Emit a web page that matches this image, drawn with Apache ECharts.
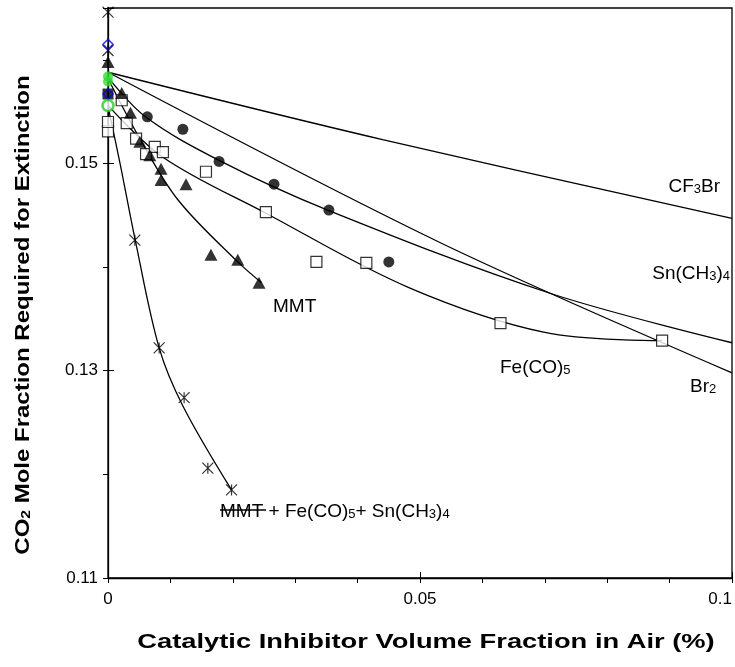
<!DOCTYPE html>
<html><head><meta charset="utf-8">
<script src="https://cdn.jsdelivr.net/npm/echarts@6/dist/echarts.min.js"></script>
<style>html,body{margin:0;padding:0;background:#fff}#c{width:735px;height:667px}</style>
</head><body><div id="c"></div>
<script>
// ---- data ----
const xTickLabels = ['0', '0.05', '0.1'];
const yTickLabels = ['0.11', '0.13', '0.15'];
// measured points
const snPts  = [[0.0063,0.1545],[0.0120,0.1533],[0.0178,0.1502],[0.0266,0.1480],[0.0354,0.1455],[0.0450,0.1405]];
const fePts  = [[0,0.1531],[0,0.1540],[0.0022,0.1561],[0.0030,0.1539],[0.0045,0.1524],[0.0061,0.1509],[0.0075,0.1516],[0.0088,0.1511],[0.0157,0.1492],[0.0253,0.1453],[0.0334,0.1405],[0.0414,0.1404],[0.0629,0.1346],[0.0888,0.1329]];
const mmtPts = [[0,0.1598],[0.0022,0.1568],[0.0036,0.1549],[0.0051,0.1521],[0.0067,0.1508],[0.0085,0.1495],[0.0085,0.1484],[0.0125,0.1480],[0.0165,0.1412],[0.0208,0.1407],[0.0242,0.1385]];
const mixPts = [[0,0.1646],[0,0.1609],[0.0043,0.1426],[0.0082,0.1322],[0.0122,0.1274],[0.0160,0.1206],[0.0198,0.1185]];
const blueDiamondPts = [[0,0.1615],[0,0.1567]];
const blackSquarePts = [[0,0.1567]];
const greenDotPts = [[0,0.1584],[0,0.1579]];
const greenRingPts = [[0,0.1556]];
// fitted curves
const cf3brCurve = [[0,0.1588],[0.044,0.1523],[0.1,0.1447]];
const br2Curve   = [[0,0.1588],[0.0531,0.1424],[0.1,0.1298]];
const snCurve    = [[0,0.1583],[0.006,0.1545],[0.0178,0.1503],[0.0352,0.1455],[0.0707,0.1375],[0.1,0.1327]];
const feCurve    = [[0,0.1556],[0.0088,0.1506],[0.0253,0.1452],[0.0483,0.1380],[0.0700,0.1337],[0.0888,0.1329]];
const mmtCurve   = [[0,0.1582],[0.0051,0.1524],[0.0112,0.1465],[0.0208,0.1405],[0.0246,0.1385]];
const mixCurve   = [[0,0.1555],[0.0020,0.1498],[0.0043,0.1428],[0.0082,0.1322],[0.0120,0.1266],[0.0198,0.1185]];

const FONT = '"Liberation Sans", Arial, sans-serif';
const chart = echarts.init(document.getElementById('c'));
const grid = {left:108, right:2, top:8, bottom:89};
const lbl = (v, list) => { const s = String(+v.toFixed(4)); return list.includes(s) ? s : ''; };

const curve = (data) => ({type:'line', data, smooth:0.35, symbol:'none', silent:true,
  lineStyle:{color:'#000', width:1.3}, z:2});
const asterisk = 'path://M0,0L10,10M10,0L0,10M5,0L5,10';

const rich = {
  n:{fontFamily:FONT, fontSize:19, color:'#000', lineHeight:22, verticalAlign:'bottom'},
  s:{fontFamily:FONT, fontSize:13, color:'#000', lineHeight:14, verticalAlign:'bottom'}
};
const txt = (x, y, text, align) => ({type:'text', x, y, z:50,
  style:{text, rich, align: align||'left', verticalAlign:'middle', fill:'#000'}});

chart.setOption({
  animation:false,
  grid:{...grid, show:true, borderColor:'#000', borderWidth:1.3, backgroundColor:'#fff'},
  xAxis:[{type:'value', min:0, max:0.1, interval:0.01,
    axisLine:{show:true, lineStyle:{color:'#000', width:1.3}},
    axisTick:{show:true, length:5, lineStyle:{color:'#000'}},
    splitLine:{show:false},
    axisLabel:{margin:13, fontFamily:FONT, fontSize:17, color:'#000', alignMaxLabel:'right',
      formatter:v=>lbl(v, xTickLabels)}},
   {type:'value', min:0, max:0.1, interval:0.05, position:'bottom', gridIndex:0,
    axisLine:{show:false}, axisTick:{show:true, inside:true, length:6, lineStyle:{color:'#000'}},
    axisLabel:{show:false}, splitLine:{show:false}}],
  yAxis:[{type:'value', min:0.11, max:0.165, interval:0.01,
    axisLine:{show:true, lineStyle:{color:'#000', width:1.3}},
    axisTick:{show:true, length:5, lineStyle:{color:'#000'}},
    splitLine:{show:false},
    axisLabel:{margin:10, fontFamily:FONT, fontSize:17, color:'#000',
      formatter:v=>lbl(v, yTickLabels)}},
   {type:'value', min:0.11, max:0.165, interval:0.02, position:'left',
    axisLine:{show:false}, axisTick:{show:true, inside:true, length:6, lineStyle:{color:'#000'}},
    axisLabel:{show:false}, splitLine:{show:false}}],
  series:[
    curve(cf3brCurve), curve(br2Curve), curve(snCurve), curve(feCurve), curve(mmtCurve), curve(mixCurve),
    {type:'scatter', data:fePts, symbol:'rect', symbolSize:11, z:5,
      itemStyle:{color:'#fff', borderColor:'#000', borderWidth:1.2}},
    {type:'scatter', data:snPts, symbol:'circle', symbolSize:11, z:6, itemStyle:{color:'#000'}},
    {type:'scatter', data:mmtPts, symbol:'triangle', symbolSize:[13,12], z:6, itemStyle:{color:'#000'}},
    {type:'scatter', data:mixPts, symbol:asterisk, symbolSize:11, z:6,
      itemStyle:{color:'none', borderColor:'#000', borderWidth:1.2}},
    {type:'scatter', data:greenDotPts, symbol:'circle', symbolSize:10, z:7, itemStyle:{color:'#33dd33'}},
    {type:'scatter', data:blackSquarePts, symbol:'rect', symbolSize:11, z:7, itemStyle:{color:'#000'}},
    {type:'scatter', data:blueDiamondPts, symbol:'diamond', symbolSize:10, z:8,
      itemStyle:{color:'none', borderColor:'#0000ee', borderWidth:1.5}},
    {type:'scatter', data:greenRingPts, symbol:'circle', symbolSize:11, z:8,
      itemStyle:{color:'#fff', borderColor:'#22cc22', borderWidth:2.5}}
  ],
  graphic:[
    txt(720, 185, '{n|CF}{s|3}{n|Br}', 'right'),
    txt(730, 272, '{n|Sn(CH}{s|3}{n|)}{s|4}', 'right'),
    txt(690, 385, '{n|Br}{s|2}', 'left'),
    txt(500, 366, '{n|Fe(CO)}{s|5}', 'left'),
    txt(273, 305, '{n|MMT}', 'left'),
    txt(220, 510, '{n|MMT + Fe(CO)}{s|5}{n|+ Sn(CH}{s|3}{n|)}{s|4}', 'left'),
    {type:'line', z:51, shape:{x1:220, y1:510, x2:266, y2:510}, style:{stroke:'#000', lineWidth:1.3}},
    {type:'text', z:50, x:426, y:642, scaleX:1.3,
      style:{text:'Catalytic Inhibitor Volume Fraction in Air (%)', fontFamily:FONT, fontWeight:'bold',
        fontSize:21, fill:'#000', align:'center', verticalAlign:'middle'}},
    {type:'text', z:50, x:22, y:315, rotation:Math.PI/2, scaleX:1.2,
      style:{text:'{b|CO}{bs|2}{b| Mole Fraction Required for Extinction}', align:'center', verticalAlign:'middle',
        rich:{b:{fontFamily:FONT, fontWeight:'bold', fontSize:20, lineHeight:22, verticalAlign:'bottom', color:'#000'},
              bs:{fontFamily:FONT, fontWeight:'bold', fontSize:13, lineHeight:14, verticalAlign:'bottom', color:'#000'}}}}
  ]
});
</script></body></html>
